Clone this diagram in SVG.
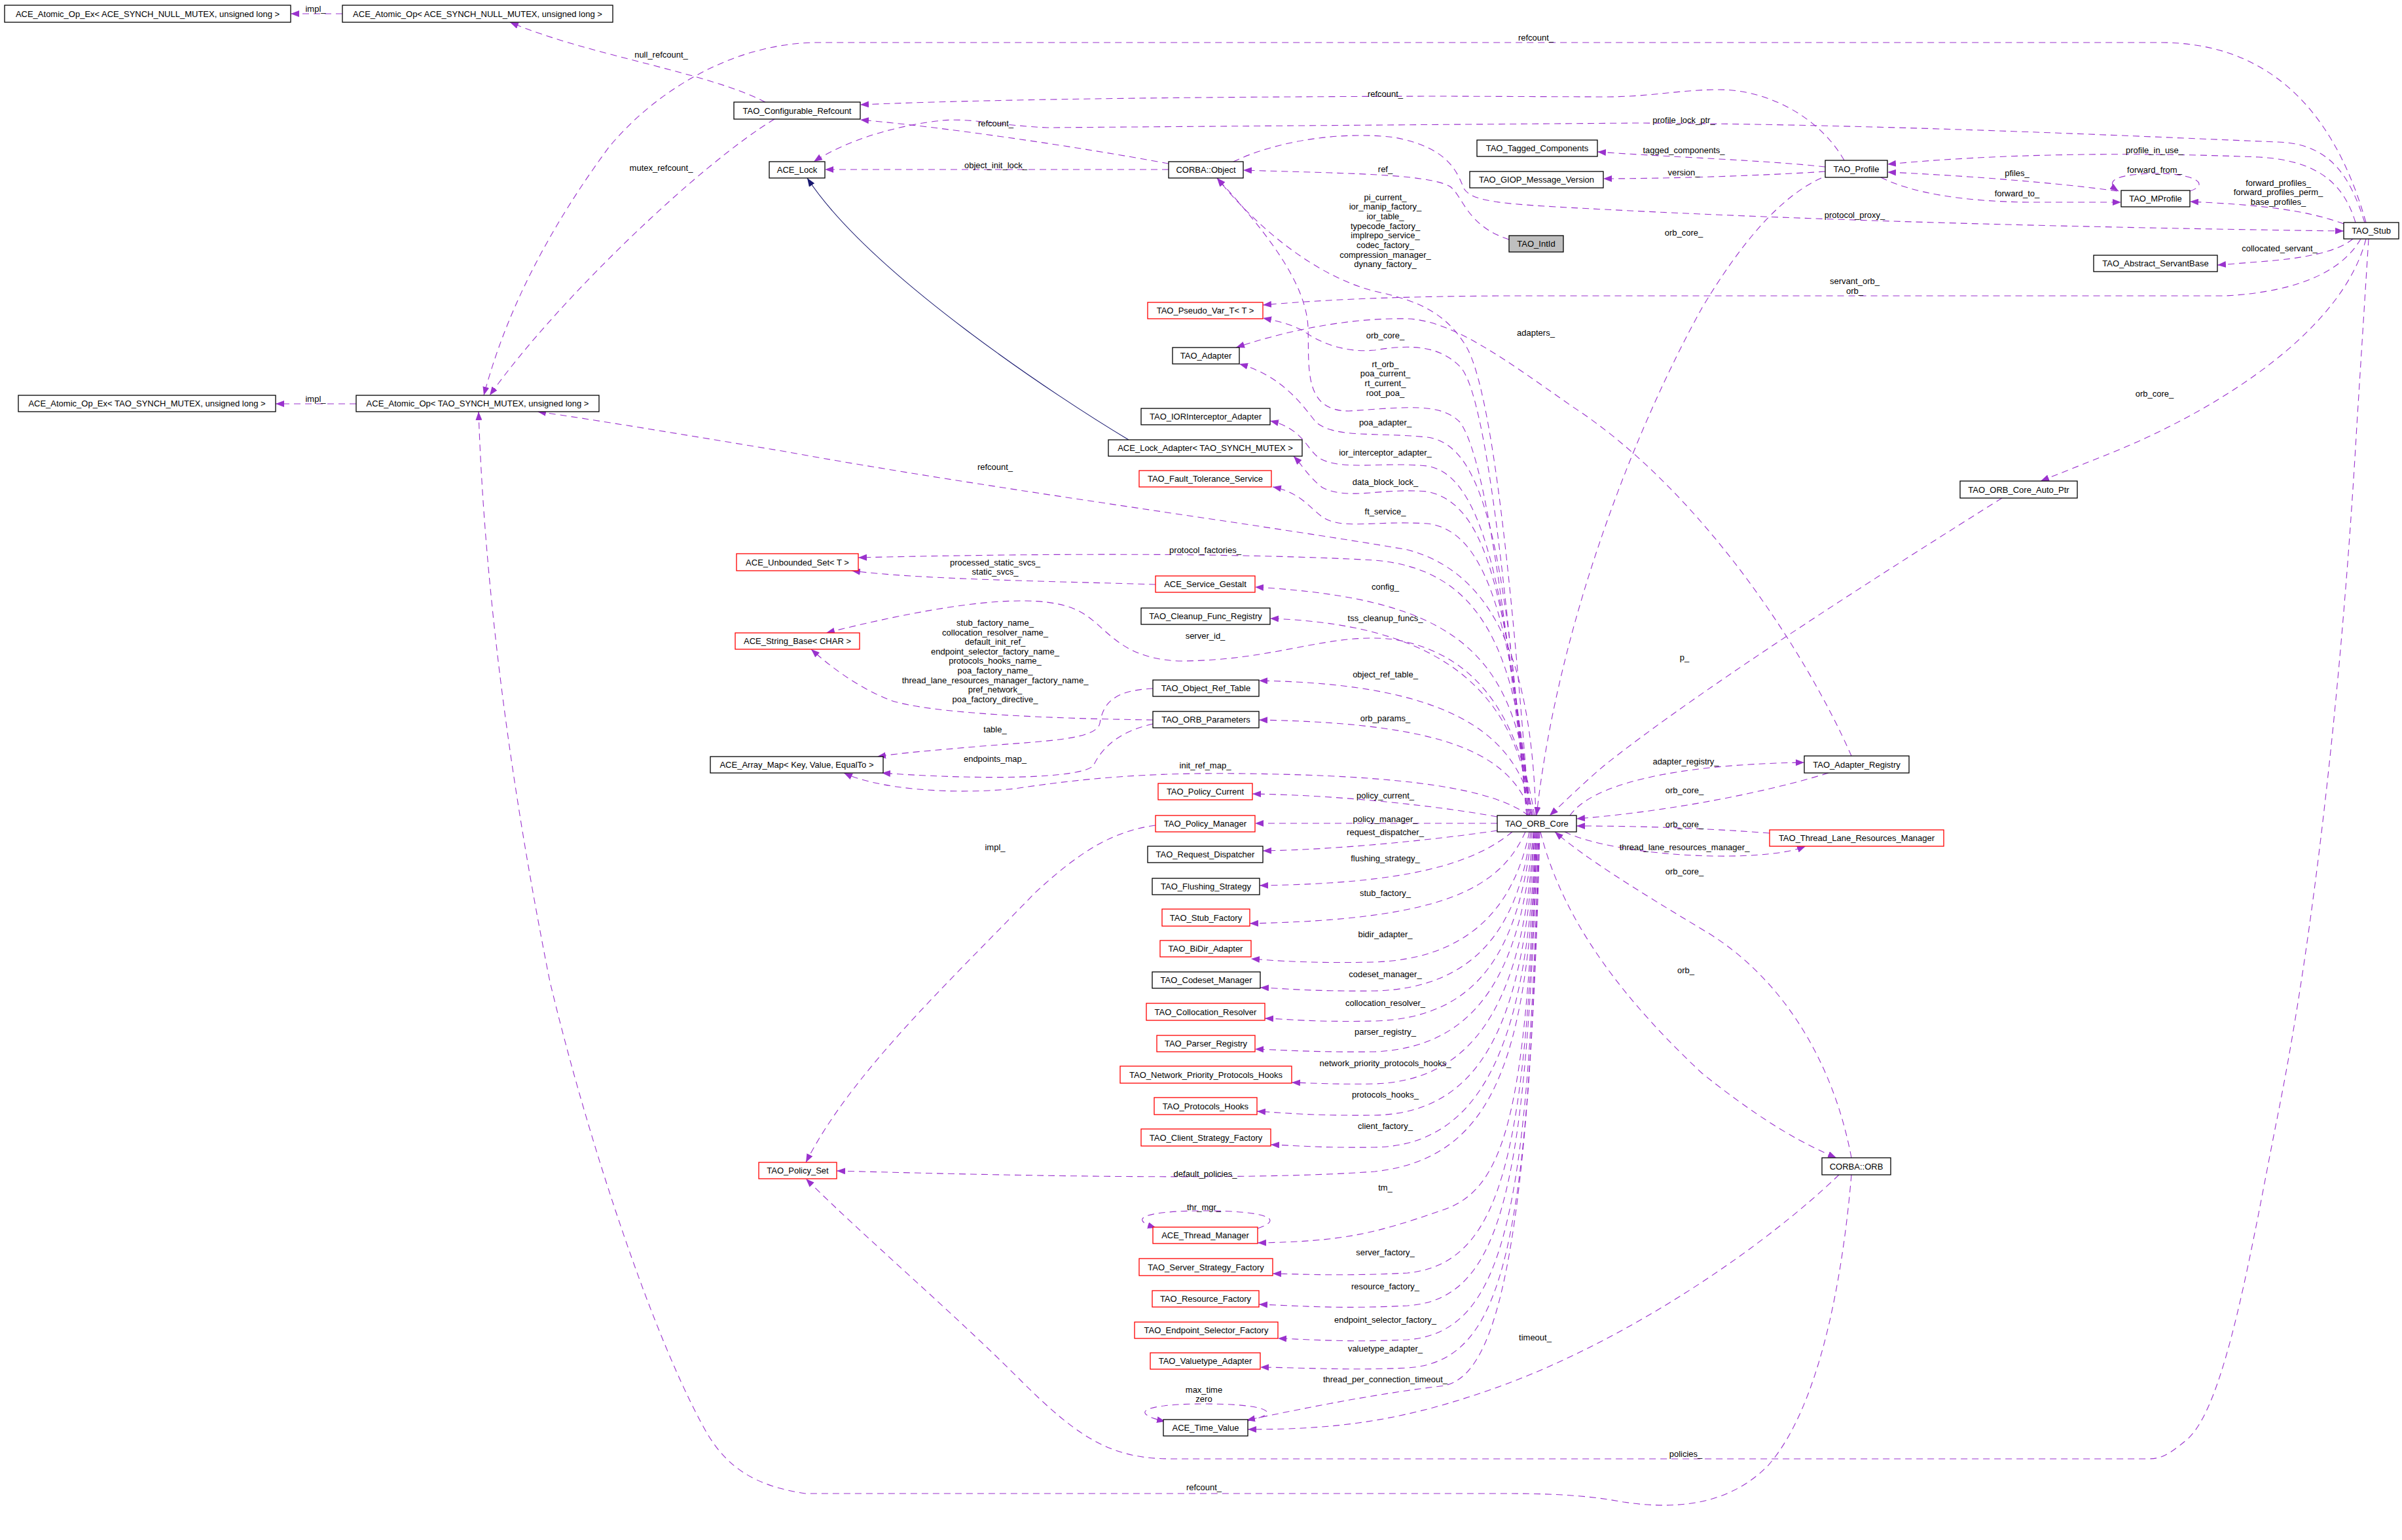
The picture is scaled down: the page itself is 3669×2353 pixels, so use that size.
<svg xmlns="http://www.w3.org/2000/svg" width="3669" height="2353" viewBox="0 0 3669 2353">
<style>
.n rect{fill:#fff;stroke:#000;stroke-width:1.3}
.n.r rect{stroke:#f00}
.n.g rect{fill:#bfbfbf}
text{font-family:"Liberation Sans",Arial,sans-serif;font-size:13px;fill:#000}
.n text{text-anchor:middle}
#labels text{text-anchor:middle}
#edges path{fill:none;stroke:#9a32cd;stroke-width:1.1;stroke-dasharray:10,7;marker-end:url(#a)}
#edges path.inh{stroke:#191970;stroke-dasharray:none;marker-end:url(#ai)}
</style>
<defs>
<marker id="a" markerUnits="userSpaceOnUse" markerWidth="14" markerHeight="10" refX="13" refY="5" orient="auto"><path d="M0,0 L13,5 L0,10 z" fill="#9a32cd"/></marker>
<marker id="ai" markerUnits="userSpaceOnUse" markerWidth="14" markerHeight="10" refX="13" refY="5" orient="auto"><path d="M0,0 L13,5 L0,10 z" fill="#191970"/></marker>
</defs>
<rect width="3669" height="2353" fill="#fff"/>
<g id="edges">
<path d="M523,21 L444,21"/>
<path d="M1169,156 C1080,110 900,85 779,34"/>
<path d="M1183,182 C1070,250 850,460 748,604"/>
<path d="M544,617 L421,617"/>
<path d="M3614,340 C3560,150 3450,65 3300,65 L1250,65 C1120,65 1000,140 930,225 C860,320 780,450 739,604"/>
<path d="M2817,245 C2780,180 2700,135 2620,137 C2560,138 2520,148 2450,148 L2200,147 C1800,148 1500,152 1314,160"/>
<path d="M1785,250 C1650,225 1450,195 1314,183"/>
<path d="M3612,340 C3590,270 3560,220 3480,217 C3300,210 2900,190 2500,188 L1600,195 C1530,192 1480,180 1440,184 C1380,190 1300,210 1243,247"/>
<path d="M1785,259 L1260,259"/>
<path class="inh" d="M1724,672 C1620,610 1330,420 1233,272"/>
<path d="M2305,366 C2240,345 2235,300 2215,285 C2180,265 2050,265 1899,260"/>
<path d="M2788,255 C2700,245 2550,240 2440,232"/>
<path d="M2788,262 C2700,268 2550,273 2449,273"/>
<path d="M1884,247 C1950,215 2050,200 2130,210 C2210,225 2225,260 2236,288 C2250,310 2300,312 2450,320 C2800,338 3200,348 3580,353"/>
<path d="M3598,340 C3580,280 3540,245 3450,240 C3250,232 3050,235 2883,251"/>
<path d="M3234,292 C3150,280 3000,268 2883,263"/>
<path d="M2873,271 C2920,295 3000,308 3100,309 L3240,309"/>
<path d="M3345,292 C3380,280 3345,264 3290,265 C3235,266 3212,276 3236,292"/>
<path d="M3580,342 C3520,320 3450,313 3345,308"/>
<path d="M3594,365 C3570,385 3520,395 3450,400 L3387,405"/>
<path d="M3606,365 C3580,410 3520,445 3400,452 L2300,452 C2100,453 2000,460 1929,466"/>
<path d="M3614,365 C3580,500 3400,620 3230,690 C3180,710 3150,722 3117,735"/>
<path d="M3618,365 L3600,650 C3580,1000 3540,1400 3480,1700 C3440,1900 3400,2150 3340,2200 C3310,2225 3300,2229 3280,2229 L1790,2229 C1700,2229 1650,2200 1560,2110 C1450,2000 1320,1890 1231,1801"/>
<path d="M2828,1795 C2815,1950 2780,2150 2700,2240 C2650,2290 2580,2310 2480,2295 C2440,2288 2400,2282 2300,2282 L1230,2282 C1150,2270 1110,2240 1080,2190 C1000,2050 900,1750 840,1500 C780,1200 740,900 731,629"/>
<path d="M2346,1246 C2340,1050 2300,880 2150,840 C1950,805 1500,745 1200,690 C1050,665 900,640 821,629"/>
<path d="M2782,272 C2720,300 2660,370 2600,470 C2500,650 2380,950 2347,1246"/>
<path d="M3058,761 C2900,860 2600,1050 2450,1170 C2420,1195 2390,1225 2367,1246"/>
<path d="M2793,1181 C2700,1210 2550,1240 2408,1251"/>
<path d="M2703,1273 C2600,1265 2500,1262 2408,1262"/>
<path d="M2828,1769 C2800,1620 2720,1490 2600,1420 C2500,1360 2420,1310 2375,1271"/>
<path d="M2398,1246 C2430,1200 2550,1168 2756,1165"/>
<path d="M2390,1271 C2450,1300 2600,1315 2700,1305 C2730,1302 2745,1298 2758,1293"/>
<path d="M2353,1271 C2380,1380 2450,1500 2600,1640 C2700,1720 2760,1750 2805,1769"/>
<path d="M2828,1155 C2760,1000 2600,750 2400,620 C2300,550 2220,490 2150,487 C2050,485 1950,510 1888,531"/>
<path d="M2809,1795 C2700,1900 2500,2040 2300,2115 C2150,2170 2050,2184 1906,2184"/>
<path d="M2336,1246 C2310,900 2280,600 2240,530 C2210,480 2170,460 2100,445 C2020,425 1930,360 1859,272"/>
<path d="M2334,1246 C2300,950 2270,700 2230,645 C2200,615 2150,622 2060,628 C1990,628 2000,560 1998,500 C1995,430 1930,350 1859,272"/>
<path d="M2332,1246 C2300,900 2270,600 2230,560 C2200,530 2160,525 2100,535 C2050,540 2010,520 1990,505 C1970,495 1950,490 1929,486"/>
<path d="M2332,1246 C2300,850 2270,680 2180,668 C2100,660 2040,670 2010,645 C1990,620 1960,575 1893,556"/>
<path d="M2334,1246 C2300,880 2260,725 2180,712 C2110,705 2050,720 2015,700 C1995,685 1990,655 1940,643"/>
<path d="M2336,1246 C2300,900 2270,770 2180,751 C2110,745 2060,765 2020,745 C2000,730 1990,712 1976,697"/>
<path d="M2336,1246 C2310,950 2270,810 2180,800 C2100,795 2050,810 2020,790 C2000,775 1985,752 1944,744"/>
<path d="M2336,1246 C2320,990 2260,870 2100,856 C1900,845 1600,845 1311,852"/>
<path d="M2338,1246 C2320,1000 2230,915 1917,897"/>
<path d="M2340,1246 C2320,1080 2230,955 1940,945"/>
<path d="M2344,1246 C2320,1100 2260,1000 2130,977 C2030,965 1950,1010 1800,1010 C1700,1005 1690,950 1640,930 C1580,905 1450,920 1262,967"/>
<path d="M2342,1246 C2320,1130 2230,1045 1923,1040"/>
<path d="M2340,1246 C2310,1160 2230,1105 1923,1100"/>
<path d="M2335,1246 C2280,1205 2150,1185 1900,1182 C1750,1180 1650,1190 1550,1205 C1450,1215 1340,1205 1289,1181"/>
<path d="M2287,1248 C2200,1232 2050,1215 1913,1213"/>
<path d="M2287,1258 L1917,1258"/>
<path d="M2287,1269 C2200,1282 2050,1298 1929,1300"/>
<path d="M2310,1271 C2250,1320 2150,1350 1924,1353"/>
<path d="M2330,1271 C2290,1360 2200,1405 1909,1411"/>
<path d="M2336,1271 C2310,1400 2230,1465 2100,1470 C2000,1472 1950,1468 1911,1465"/>
<path d="M2338,1271 C2320,1420 2250,1510 2100,1514 C2000,1515 1960,1510 1925,1509"/>
<path d="M2340,1271 C2320,1450 2260,1555 2100,1560 C2000,1562 1970,1557 1932,1556"/>
<path d="M2342,1271 C2325,1480 2260,1600 2100,1607 C2000,1608 1960,1604 1917,1603"/>
<path d="M2343,1271 C2330,1500 2270,1650 2100,1656 C2040,1657 2010,1655 1973,1654"/>
<path d="M2344,1271 C2330,1550 2270,1700 2100,1704 C2000,1705 1960,1700 1920,1698"/>
<path d="M2345,1271 C2335,1580 2270,1750 2100,1753 C2010,1754 1980,1750 1941,1749"/>
<path d="M2346,1271 C2335,1620 2280,1770 2100,1790 C1900,1805 1500,1795 1278,1789"/>
<path d="M2347,1271 C2330,1700 2300,1820 2200,1850 C2100,1885 2050,1897 1921,1899"/>
<path d="M1921,1877 C1965,1862 1930,1850 1840,1850 C1750,1850 1720,1862 1766,1876"/>
<path d="M2348,1271 C2330,1750 2300,1930 2150,1945 C2050,1950 2000,1947 1944,1946"/>
<path d="M2349,1271 C2330,1800 2300,1985 2150,1995 C2050,2000 2000,1996 1923,1993"/>
<path d="M2350,1271 C2335,1850 2300,2035 2150,2047 C2060,2051 2010,2047 1952,2045"/>
<path d="M2351,1271 C2335,1900 2300,2080 2150,2090 C2060,2094 2000,2090 1925,2089"/>
<path d="M2352,1271 C2335,1950 2280,2110 2200,2118 C2100,2130 2000,2150 1904,2170"/>
<path d="M1906,2171 C1965,2158 1930,2145 1840,2145 C1750,2145 1720,2158 1780,2172"/>
<path d="M1765,893 C1600,888 1400,885 1301,872"/>
<path d="M1761,1100 C1600,1098 1420,1090 1360,1070 C1310,1050 1270,1020 1239,992"/>
<path d="M1761,1052 C1700,1055 1685,1075 1680,1105 C1675,1130 1600,1132 1500,1140 C1420,1147 1380,1150 1340,1156"/>
<path d="M1761,1106 C1700,1120 1680,1150 1670,1170 C1650,1190 1500,1192 1347,1181"/>
<path d="M1765,1261 C1700,1270 1650,1300 1580,1365 C1450,1500 1300,1640 1231,1776"/>
</g>
<g id="n1" class="n"><rect x="7" y="8" width="437" height="26"/><text x="225.5" y="25.5">ACE_Atomic_Op_Ex&lt; ACE_SYNCH_NULL_MUTEX, unsigned long &gt;</text></g>
<g id="n2" class="n"><rect x="523" y="8" width="413" height="26"/><text x="729.5" y="25.5">ACE_Atomic_Op&lt; ACE_SYNCH_NULL_MUTEX, unsigned long &gt;</text></g>
<g id="n3" class="n"><rect x="1121" y="156" width="193" height="26"/><text x="1217.5" y="173.5">TAO_Configurable_Refcount</text></g>
<g id="n4" class="n"><rect x="1175" y="247" width="85" height="25"/><text x="1217.5" y="264">ACE_Lock</text></g>
<g id="n5" class="n"><rect x="1785" y="247" width="114" height="25"/><text x="1842" y="264">CORBA::Object</text></g>
<g id="n6" class="n"><rect x="2256" y="214" width="184" height="25"/><text x="2348" y="231">TAO_Tagged_Components</text></g>
<g id="n7" class="n"><rect x="2245" y="262" width="204" height="25"/><text x="2347" y="279">TAO_GIOP_Message_Version</text></g>
<g id="n8" class="n g"><rect x="2305" y="360" width="83" height="25"/><text x="2346.5" y="377">TAO_IntId</text></g>
<g id="n9" class="n r"><rect x="1753" y="462" width="176" height="25"/><text x="1841" y="479">TAO_Pseudo_Var_T&lt; T &gt;</text></g>
<g id="n10" class="n"><rect x="1791" y="531" width="102" height="25"/><text x="1842" y="548">TAO_Adapter</text></g>
<g id="n11" class="n"><rect x="1743" y="624" width="197" height="25"/><text x="1841.5" y="641">TAO_IORInterceptor_Adapter</text></g>
<g id="n12" class="n"><rect x="1693" y="672" width="296" height="25"/><text x="1841" y="689">ACE_Lock_Adapter&lt; TAO_SYNCH_MUTEX &gt;</text></g>
<g id="n13" class="n"><rect x="28" y="604" width="393" height="25"/><text x="224.5" y="621">ACE_Atomic_Op_Ex&lt; TAO_SYNCH_MUTEX, unsigned long &gt;</text></g>
<g id="n14" class="n"><rect x="544" y="604" width="371" height="25"/><text x="729.5" y="621">ACE_Atomic_Op&lt; TAO_SYNCH_MUTEX, unsigned long &gt;</text></g>
<g id="n15" class="n"><rect x="2788" y="245" width="95" height="26"/><text x="2835.5" y="262.5">TAO_Profile</text></g>
<g id="n16" class="n"><rect x="3240" y="291" width="105" height="25"/><text x="3292.5" y="308">TAO_MProfile</text></g>
<g id="n17" class="n"><rect x="3580" y="340" width="84" height="25"/><text x="3622" y="357">TAO_Stub</text></g>
<g id="n18" class="n"><rect x="3198" y="390" width="189" height="25"/><text x="3292.5" y="407">TAO_Abstract_ServantBase</text></g>
<g id="n19" class="n r"><rect x="1740" y="719" width="202" height="25"/><text x="1841" y="736">TAO_Fault_Tolerance_Service</text></g>
<g id="n20" class="n r"><rect x="1125" y="846" width="186" height="26"/><text x="1218" y="863.5">ACE_Unbounded_Set&lt; T &gt;</text></g>
<g id="n21" class="n r"><rect x="1765" y="880" width="152" height="25"/><text x="1841" y="897">ACE_Service_Gestalt</text></g>
<g id="n22" class="n"><rect x="1743" y="929" width="197" height="25"/><text x="1841.5" y="946">TAO_Cleanup_Func_Registry</text></g>
<g id="n23" class="n r"><rect x="1123" y="967" width="190" height="25"/><text x="1218" y="984">ACE_String_Base&lt; CHAR &gt;</text></g>
<g id="n24" class="n"><rect x="1761" y="1039" width="162" height="25"/><text x="1842" y="1056">TAO_Object_Ref_Table</text></g>
<g id="n25" class="n"><rect x="1761" y="1087" width="162" height="25"/><text x="1842" y="1104">TAO_ORB_Parameters</text></g>
<g id="n26" class="n"><rect x="1085" y="1156" width="264" height="25"/><text x="1217" y="1173">ACE_Array_Map&lt; Key, Value, EqualTo &gt;</text></g>
<g id="n27" class="n r"><rect x="1769" y="1197" width="144" height="25"/><text x="1841" y="1214">TAO_Policy_Current</text></g>
<g id="n28" class="n r"><rect x="1765" y="1246" width="152" height="25"/><text x="1841" y="1263">TAO_Policy_Manager</text></g>
<g id="n29" class="n"><rect x="1753" y="1293" width="176" height="25"/><text x="1841" y="1310">TAO_Request_Dispatcher</text></g>
<g id="n30" class="n"><rect x="1760" y="1342" width="164" height="25"/><text x="1842" y="1359">TAO_Flushing_Strategy</text></g>
<g id="n31" class="n r"><rect x="1775" y="1389" width="134" height="26"/><text x="1842" y="1406.5">TAO_Stub_Factory</text></g>
<g id="n32" class="n r"><rect x="1772" y="1437" width="139" height="25"/><text x="1841.5" y="1454">TAO_BiDir_Adapter</text></g>
<g id="n33" class="n"><rect x="1760" y="1485" width="165" height="25"/><text x="1842.5" y="1502">TAO_Codeset_Manager</text></g>
<g id="n34" class="n r"><rect x="1751" y="1533" width="181" height="26"/><text x="1841.5" y="1550.5">TAO_Collocation_Resolver</text></g>
<g id="n35" class="n r"><rect x="1767" y="1582" width="150" height="25"/><text x="1842" y="1599">TAO_Parser_Registry</text></g>
<g id="n36" class="n r"><rect x="1711" y="1629" width="262" height="26"/><text x="1842" y="1646.5">TAO_Network_Priority_Protocols_Hooks</text></g>
<g id="n37" class="n r"><rect x="1763" y="1677" width="157" height="26"/><text x="1841.5" y="1694.5">TAO_Protocols_Hooks</text></g>
<g id="n38" class="n r"><rect x="1743" y="1725" width="198" height="26"/><text x="1842" y="1742.5">TAO_Client_Strategy_Factory</text></g>
<g id="n39" class="n r"><rect x="1159" y="1776" width="119" height="25"/><text x="1218.5" y="1793">TAO_Policy_Set</text></g>
<g id="n40" class="n r"><rect x="1761" y="1875" width="160" height="25"/><text x="1841" y="1892">ACE_Thread_Manager</text></g>
<g id="n41" class="n r"><rect x="1740" y="1923" width="204" height="26"/><text x="1842" y="1940.5">TAO_Server_Strategy_Factory</text></g>
<g id="n42" class="n r"><rect x="1760" y="1972" width="163" height="25"/><text x="1841.5" y="1989">TAO_Resource_Factory</text></g>
<g id="n43" class="n r"><rect x="1733" y="2020" width="219" height="25"/><text x="1842.5" y="2037">TAO_Endpoint_Selector_Factory</text></g>
<g id="n44" class="n r"><rect x="1757" y="2067" width="168" height="25"/><text x="1841" y="2084">TAO_Valuetype_Adapter</text></g>
<g id="n45" class="n"><rect x="1777" y="2169" width="129" height="25"/><text x="1841.5" y="2186">ACE_Time_Value</text></g>
<g id="n46" class="n"><rect x="2287" y="1246" width="121" height="25"/><text x="2347.5" y="1263">TAO_ORB_Core</text></g>
<g id="n47" class="n"><rect x="2994" y="735" width="179" height="26"/><text x="3083.5" y="752.5">TAO_ORB_Core_Auto_Ptr</text></g>
<g id="n48" class="n"><rect x="2756" y="1155" width="160" height="26"/><text x="2836" y="1172.5">TAO_Adapter_Registry</text></g>
<g id="n49" class="n r"><rect x="2703" y="1268" width="266" height="25"/><text x="2836" y="1285">TAO_Thread_Lane_Resources_Manager</text></g>
<g id="n50" class="n"><rect x="2783" y="1769" width="105" height="26"/><text x="2835.5" y="1786.5">CORBA::ORB</text></g>
<g id="labels">
<text x="482" y="18">impl_</text>
<text x="482" y="614">impl_</text>
<text x="1010" y="88">null_refcount_</text>
<text x="1010" y="261">mutex_refcount_</text>
<text x="2346" y="62">refcount_</text>
<text x="2116" y="148">refcount_</text>
<text x="1521" y="193">refcount_</text>
<text x="2572" y="188">profile_lock_ptr_</text>
<text x="1521" y="257">object_init_lock_</text>
<text x="2116" y="263">ref_</text>
<text x="2572" y="234">tagged_components_</text>
<text x="2572" y="268">version_</text>
<text x="3291" y="234">profile_in_use_</text>
<text x="3291" y="264">forward_from_</text>
<text x="3081" y="269">pfiles_</text>
<text x="3081" y="300">forward_to_</text>
<text x="3480" y="284">forward_profiles_</text>
<text x="3480" y="298">forward_profiles_perm_</text>
<text x="3480" y="313">base_profiles_</text>
<text x="2833" y="333">protocol_proxy_</text>
<text x="2572" y="360">orb_core_</text>
<text x="3482" y="384">collocated_servant_</text>
<text x="2833" y="434">servant_orb_</text>
<text x="2833" y="449">orb_</text>
<text x="3291" y="606">orb_core_</text>
<text x="2116" y="305.6">pi_current_</text>
<text x="2116" y="320.3">ior_manip_factory_</text>
<text x="2116" y="335">ior_table_</text>
<text x="2116" y="349.7">typecode_factory_</text>
<text x="2116" y="364.4">implrepo_service_</text>
<text x="2116" y="379">codec_factory_</text>
<text x="2116" y="393.7">compression_manager_</text>
<text x="2116" y="408.4">dynany_factory_</text>
<text x="2346" y="513">adapters_</text>
<text x="2116" y="517">orb_core_</text>
<text x="2116" y="560.5">rt_orb_</text>
<text x="2116" y="575.3">poa_current_</text>
<text x="2116" y="589.6">rt_current_</text>
<text x="2116" y="604.7">root_poa_</text>
<text x="2116" y="650">poa_adapter_</text>
<text x="2116" y="696">ior_interceptor_adapter_</text>
<text x="1520" y="718">refcount_</text>
<text x="2116" y="741">data_block_lock_</text>
<text x="2116" y="786">ft_service_</text>
<text x="1841" y="845">protocol_factories_</text>
<text x="1520" y="864">processed_static_svcs_</text>
<text x="1520" y="878">static_svcs_</text>
<text x="2116" y="901">config_</text>
<text x="2116" y="949">tss_cleanup_funcs_</text>
<text x="1520" y="956">stub_factory_name_</text>
<text x="1520" y="970.6">collocation_resolver_name_</text>
<text x="1520" y="985.2">default_init_ref_</text>
<text x="1520" y="999.8">endpoint_selector_factory_name_</text>
<text x="1520" y="1014.4">protocols_hooks_name_</text>
<text x="1520" y="1029">poa_factory_name_</text>
<text x="1520" y="1043.6">thread_lane_resources_manager_factory_name_</text>
<text x="1520" y="1058.2">pref_network_</text>
<text x="1520" y="1072.8">poa_factory_directive_</text>
<text x="1841" y="976">server_id_</text>
<text x="2573" y="1009">p_</text>
<text x="2116" y="1035">object_ref_table_</text>
<text x="2116" y="1102">orb_params_</text>
<text x="1520" y="1119">table_</text>
<text x="1520" y="1164">endpoints_map_</text>
<text x="2575" y="1168">adapter_registry_</text>
<text x="1841" y="1174">init_ref_map_</text>
<text x="2573" y="1212">orb_core_</text>
<text x="2116" y="1220">policy_current_</text>
<text x="2116" y="1256">policy_manager_</text>
<text x="2573" y="1264">orb_core_</text>
<text x="2116" y="1276">request_dispatcher_</text>
<text x="1520" y="1299">impl_</text>
<text x="2573" y="1299">thread_lane_resources_manager_</text>
<text x="2116" y="1316">flushing_strategy_</text>
<text x="2573" y="1336">orb_core_</text>
<text x="2116" y="1369">stub_factory_</text>
<text x="2116" y="1432">bidir_adapter_</text>
<text x="2575" y="1487">orb_</text>
<text x="2116" y="1493">codeset_manager_</text>
<text x="2116" y="1537">collocation_resolver_</text>
<text x="2116" y="1581">parser_registry_</text>
<text x="2116" y="1629">network_priority_protocols_hooks_</text>
<text x="2116" y="1677">protocols_hooks_</text>
<text x="2116" y="1725">client_factory_</text>
<text x="1841" y="1798">default_policies_</text>
<text x="2116" y="1819">tm_</text>
<text x="1839" y="1849">thr_mgr_</text>
<text x="2116" y="1918">server_factory_</text>
<text x="2116" y="1970">resource_factory_</text>
<text x="2116" y="2021">endpoint_selector_factory_</text>
<text x="2345" y="2048">timeout_</text>
<text x="2116" y="2065">valuetype_adapter_</text>
<text x="2116" y="2112">thread_per_connection_timeout_</text>
<text x="1839" y="2128">max_time</text>
<text x="1839" y="2142">zero</text>
<text x="2575" y="2226">policies_</text>
<text x="1839" y="2277">refcount_</text>
</g>
</svg>
